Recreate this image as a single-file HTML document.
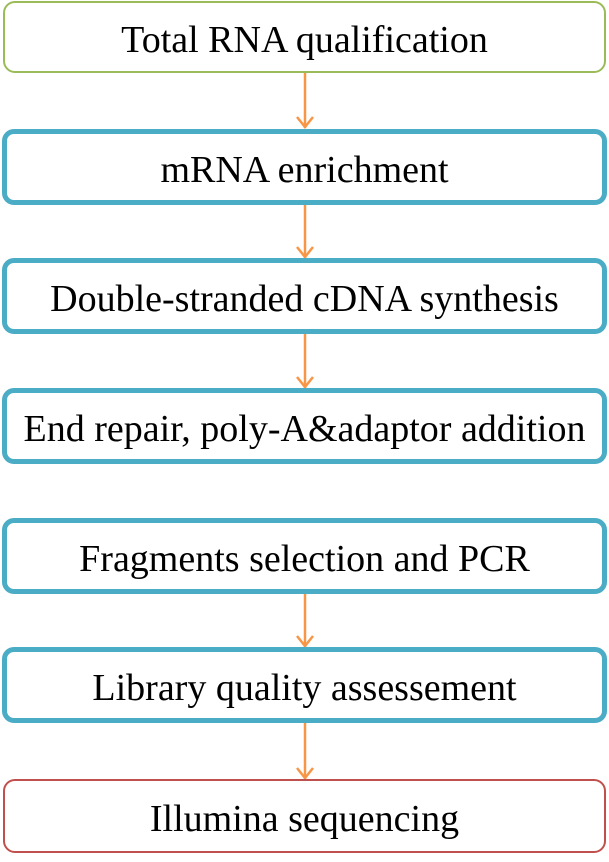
<!DOCTYPE html>
<html><head><style>
body{margin:0;width:609px;height:862px;background:#fff;position:relative;overflow:hidden;font-family:"Liberation Serif",serif;}
.b{position:absolute;box-sizing:border-box;display:flex;align-items:center;justify-content:center;font-size:38px;color:#000;background:#fff;border-radius:12px;padding-top:5px;white-space:nowrap;}
.t{border:5px solid #4bacc6;left:2px;width:605px;height:76px;}
</style></head><body>
<svg width="609" height="862" style="position:absolute;left:0;top:0">
<g stroke="#f79646" stroke-width="2.5" fill="none">
<line x1="305" y1="72" x2="305" y2="128"/><polyline points="297,117 305,127 313,117"/>
<line x1="305" y1="204" x2="305" y2="258"/><polyline points="297,247 305,257 313,247"/>
<line x1="305" y1="333" x2="305" y2="388"/><polyline points="297,377 305,387 313,377"/>
<line x1="305" y1="593" x2="305" y2="647"/><polyline points="297,636 305,646 313,636"/>
<line x1="305" y1="722" x2="305" y2="779"/><polyline points="297,768 305,778 313,768"/>
</g></svg>
<div class="b" style="border:2px solid #9bbb59;left:3px;top:1px;width:603px;height:72px;">Total RNA qualification</div>
<div class="b t" style="top:129px">mRNA enrichment</div>
<div class="b t" style="top:258px">Double-stranded cDNA synthesis</div>
<div class="b t" style="top:388px">End repair, poly-A&amp;adaptor addition</div>
<div class="b t" style="top:518px">Fragments selection and PCR</div>
<div class="b t" style="top:647px">Library quality assessement</div>
<div class="b" style="border:2px solid #c0504d;left:3px;top:779px;width:603px;height:74px;">Illumina sequencing</div>
</body></html>
